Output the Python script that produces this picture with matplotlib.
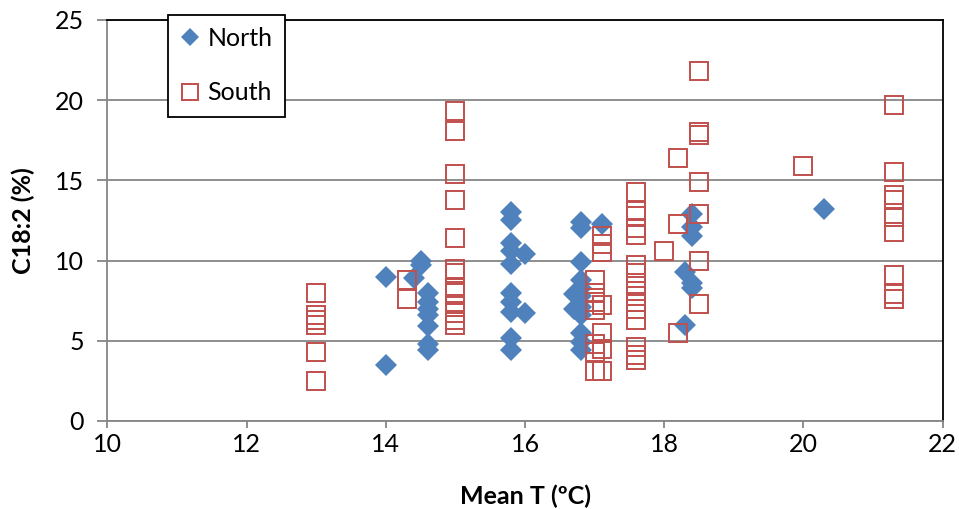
import matplotlib.pyplot as plt

plt.rcParams['font.family'] = ['Lato', 'DejaVu Sans']

# mean temperature (x) and C18:2 percentage (y) for each site group
north_t = [14.0, 14.0, 14.4, 14.5, 14.5,
           14.6, 14.6, 14.6, 14.6, 14.6, 14.6, 14.6,
           15.8, 15.8, 15.8, 15.8, 15.8, 15.8, 15.8, 15.8, 15.8, 15.8,
           16.0, 16.0, 16.7, 16.7,
           16.8, 16.8, 16.8, 16.8, 16.8, 16.8, 16.8, 16.8, 16.8, 16.8, 16.8,
           17.1, 18.3, 18.3, 18.4, 18.4, 18.4, 18.4, 18.4, 20.3]
north_c = [9.0, 3.5, 8.9, 10.0, 9.7,
           8.0, 7.4, 7.0, 6.6, 5.9, 4.8, 4.4,
           13.0, 12.5, 11.1, 10.6, 9.8, 8.0, 7.4, 6.8, 5.2, 4.4,
           10.4, 6.7, 7.9, 7.0,
           12.4, 12.0, 9.9, 8.8, 8.3, 7.8, 7.1, 6.6, 5.5, 4.9, 4.4,
           12.3, 9.3, 6.0, 12.9, 12.1, 11.5, 8.6, 8.3, 13.2]

south_t = [13.0] * 6 + [14.3] * 2 + [15.0] * 13 + [17.0] * 7 + [17.1] * 7 \
    + [17.6] * 15 + [18.0] + [18.2] * 3 + [18.5] * 7 + [20.0] + [21.3] * 9
south_c = [8.0, 6.6, 6.3, 6.0, 4.3, 2.5,
           8.8, 7.6,
           19.3, 18.1, 15.4, 13.8, 11.4, 9.5, 9.2, 8.3, 8.0, 7.3, 6.7, 6.3, 6.0,
           8.8, 8.0, 7.4, 6.9, 4.8, 4.3, 3.1,
           11.5, 11.0, 10.5, 7.2, 5.5, 4.5, 3.1,
           14.3, 13.1, 12.8, 12.0, 11.6, 9.7, 9.2, 8.4, 7.8, 7.4, 7.0, 6.3, 4.6, 4.1, 3.8,
           10.6,
           16.4, 12.3, 5.5,
           21.8, 18.0, 17.8, 14.9, 12.9, 10.0, 7.3,
           15.9,
           19.7, 15.5, 14.1, 13.8, 12.7, 11.8, 9.1, 7.9, 7.6]

fig = plt.figure(figsize=(9.59, 5.09), dpi=100)
ax = fig.add_axes([0.112, 0.173, 0.871, 0.788])

grey = '#868686'
ax.grid(axis='y', color=grey, linewidth=1.3)
ax.set_axisbelow(True)

ax.plot(north_t, north_c, 'D', color='#4F81BD', markersize=10.8,
        markeredgewidth=0, label='North')
ax.plot(south_t, south_c, 's', markerfacecolor='none', markeredgecolor='#C0504D',
        markersize=13.2, markeredgewidth=1.4, label='South')

ax.set_xlim(10, 22)
ax.set_ylim(0, 25)
ax.set_xticks([10, 12, 14, 16, 18, 20, 22])
ax.set_yticks([0, 5, 10, 15, 20, 25])

for side in ['left', 'bottom']:
    ax.spines[side].set_color(grey)
    ax.spines[side].set_linewidth(1.3)
for side in ['top', 'right']:
    ax.spines[side].set_color('black')
    ax.spines[side].set_linewidth(1.3)

ax.tick_params(axis='y', direction='out', length=7, width=1.3, color=grey,
               labelsize=18, pad=10)
ax.tick_params(axis='x', direction='out', length=5, width=1.3, color=grey,
               labelsize=18, pad=4)

ax.set_xlabel('Mean T (ºC)', fontsize=18, fontweight='bold', labelpad=20)
ax.set_ylabel('C18:2 (%)', fontsize=18, fontweight='bold', labelpad=14)

leg = ax.legend(loc='upper left', bbox_to_anchor=(0.072, 1.013), borderaxespad=0,
                fontsize=18, markerscale=0.85, handlelength=0.8, handletextpad=0.3,
                labelspacing=1.25, borderpad=0.5, fancybox=False, framealpha=1,
                edgecolor='black')
leg.get_frame().set_linewidth(1.3)

fig.savefig('out.png', dpi=100)
